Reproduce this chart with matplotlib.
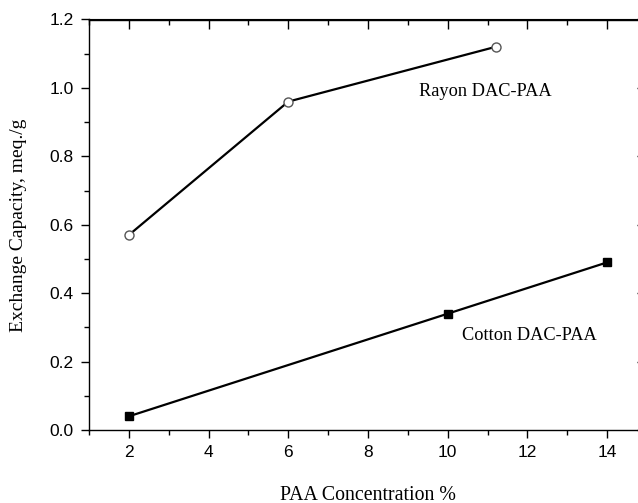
import matplotlib.pyplot as plt
from matplotlib.ticker import MultipleLocator

# data
rayon_x = [2, 6, 11.2]
rayon_y = [0.57, 0.96, 1.12]
cotton_x = [2, 10, 14]
cotton_y = [0.04, 0.34, 0.49]

fig = plt.figure(figsize=(6.38, 5.03), dpi=100)
# right spine sits just outside the picture, like the cropped original
ax = fig.add_axes([89 / 638, 73 / 503, 558 / 638, 410.5 / 503])

ax.plot(rayon_x, rayon_y, color='black', lw=1.6, marker='o', ms=6.5,
        mfc='white', mec='#555555', mew=1.0, zorder=3)
ax.plot(cotton_x, cotton_y, color='black', lw=1.6, marker='s', ms=6,
        mfc='black', mec='black', zorder=3)

ax.set_xlim(1, 15)
ax.set_ylim(0, 1.2)
ax.xaxis.set_major_locator(MultipleLocator(2))
ax.xaxis.set_minor_locator(MultipleLocator(1))
ax.yaxis.set_major_locator(MultipleLocator(0.2))
ax.yaxis.set_minor_locator(MultipleLocator(0.1))
ax.yaxis.set_major_formatter(plt.FuncFormatter(lambda v, p: f'{v:.1f}'))

for s in ax.spines.values():
    s.set_linewidth(1.0)
ax.tick_params(which='both', direction='out', top=False, right=False,
               width=1.0)
ax.tick_params(which='major', length=6, pad=5)
ax.tick_params(which='minor', length=3.5)
for lab in ax.get_xticklabels() + ax.get_yticklabels():
    lab.set_fontfamily('Liberation Sans')
    lab.set_fontsize(12.5)

# top and right: ticks pointing in, no labels
sec_x = ax.secondary_xaxis('top')
sec_x.xaxis.set_major_locator(MultipleLocator(2))
sec_x.xaxis.set_minor_locator(MultipleLocator(1))
sec_x.tick_params(which='both', direction='in', labeltop=False, width=1.0)
sec_x.tick_params(which='major', length=7)
sec_x.tick_params(which='minor', length=4)
sec_y = ax.secondary_yaxis('right')
sec_y.yaxis.set_major_locator(MultipleLocator(0.2))
sec_y.yaxis.set_minor_locator(MultipleLocator(0.1))
sec_y.tick_params(which='both', direction='in', labelright=False, width=1.0)
sec_y.tick_params(which='major', length=7)
sec_y.tick_params(which='minor', length=4)

fig.text(368 / 638, 8 / 503, 'PAA Concentration %', family='Liberation Serif',
         fontsize=14.3, ha='center', va='center')
fig.text(19 / 638, 1 - 225 / 503, 'Exchange Capacity, meq./g',
         family='Liberation Serif', fontsize=14, rotation=90,
         ha='center', va='center')

ax.text(9.28, 0.99, 'Rayon DAC-PAA', family='Liberation Serif', fontsize=13.2,
        va='center', ha='left')
ax.text(10.36, 0.275, 'Cotton DAC-PAA', family='Liberation Serif', fontsize=13.2,
        va='center', ha='left')

fig.savefig('out.png', dpi=100)
